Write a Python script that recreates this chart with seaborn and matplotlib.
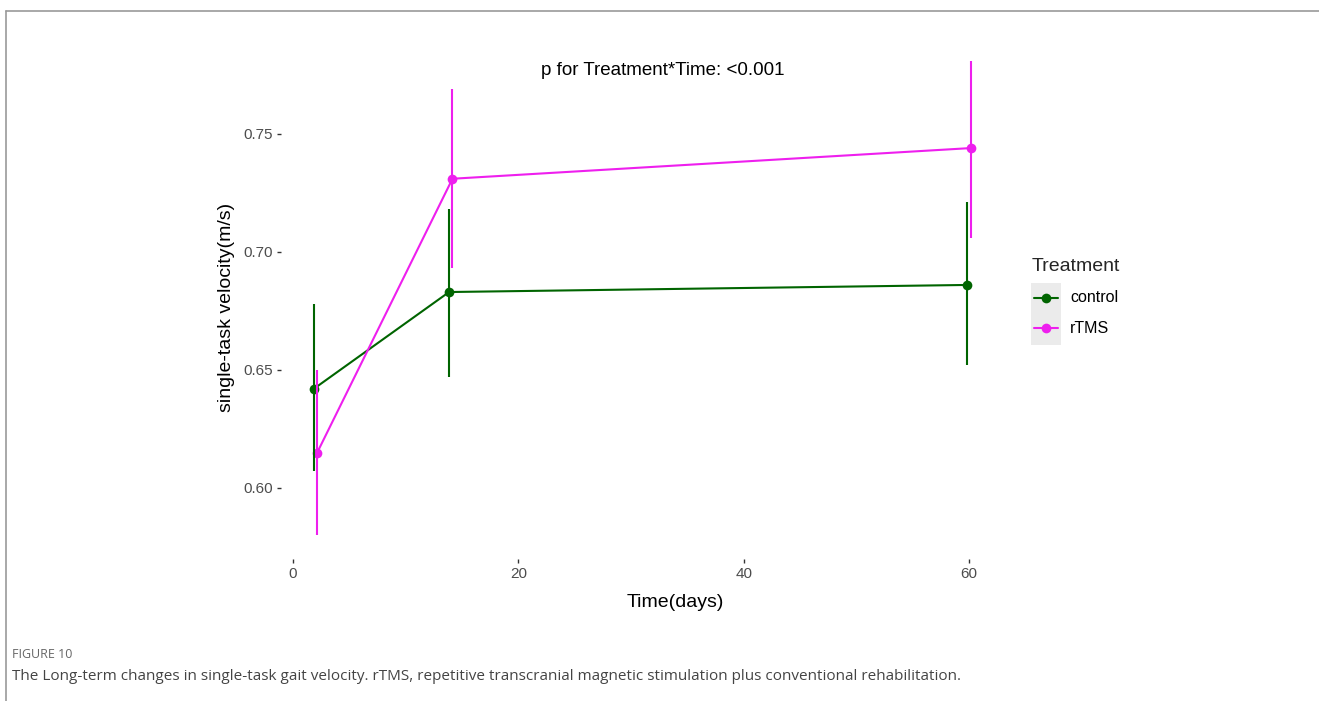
import pandas as pd
import matplotlib.pyplot as plt
import seaborn as sns
from matplotlib.patches import Rectangle
from matplotlib.lines import Line2D

# values
treatments = ["control", "rTMS"]
days = [2, 14, 60]
control_mean = [0.642, 0.683, 0.686]
control_low = [0.607, 0.647, 0.652]
control_high = [0.678, 0.718, 0.721]
rtms_mean = [0.615, 0.731, 0.744]
rtms_low = [0.580, 0.693, 0.706]
rtms_high = [0.650, 0.769, 0.781]
dodge = {"control": -0.15, "rTMS": 0.15}
colors = {"control": "#006400", "rTMS": "#EE1FEE"}

rows = []
for t, m, lo, hi in [("control", control_mean, control_low, control_high),
                     ("rTMS", rtms_mean, rtms_low, rtms_high)]:
    for d, a, b, c in zip(days, m, lo, hi):
        rows.append({"Treatment": t, "day": d + dodge[t], "mean": a, "low": b, "high": c})
df = pd.DataFrame(rows)

sns.set_theme(style="white")
plt.rcParams['font.family'] = ['Liberation Sans', 'DejaVu Sans']

fig = plt.figure(figsize=(13.19, 7.01), dpi=100)
ax = fig.add_axes([0.213, 0.203, 0.548, 0.744])

sns.lineplot(data=df, x="day", y="mean", hue="Treatment", palette=colors,
             marker="o", markersize=7, markeredgewidth=0, linewidth=1.5,
             ax=ax, legend=False, errorbar=None, sort=True)
for t in treatments:
    sub = df[df.Treatment == t]
    ax.vlines(sub["day"], sub["low"], sub["high"], color=colors[t], linewidth=1.5)

ax.set_xlim(-1.07, 63.07)
ax.set_ylim(0.570, 0.791)
ax.set_xticks([0, 20, 40, 60])
ax.set_yticks([0.60, 0.65, 0.70, 0.75])
ax.set_yticklabels(["0.60", "0.65", "0.70", "0.75"])
for s in ax.spines.values():
    s.set_visible(False)
ax.tick_params(axis="both", which="both", length=3, width=1, color="#333333",
               labelsize=11, labelcolor="#4d4d4d", pad=3, left=True, bottom=True)
ax.set_xlabel("Time(days)", fontsize=14, color="black")
ax.set_ylabel("single-task velocity(m/s)", fontsize=14, color="black")
ax.xaxis.set_label_coords((675 - 281) / 723, -0.068)
ax.yaxis.set_label_coords(-0.063, (559 - 308) / 522)

ax.text(32.8, 0.777, "p for Treatment*Time: <0.001", ha="center", va="center",
        fontsize=13.5, color="black")

# legend, ggplot style with grey key background
fig.text(1032 / 1319, 1 - 266 / 701, "Treatment", fontsize=14, va="center", ha="left")
fig.patches.append(Rectangle((1031 / 1319, 1 - 345 / 701), 30 / 1319, 62 / 701,
                             transform=fig.transFigure, facecolor="#ebebeb",
                             edgecolor="none", zorder=0))
for i, t in enumerate(treatments):
    yy = 1 - (298 + i * 30) / 701
    fig.lines.append(Line2D([1034 / 1319, 1058 / 1319], [yy, yy], transform=fig.transFigure,
                            color=colors[t], linewidth=1.5, marker=None))
    fig.lines.append(Line2D([1046 / 1319], [yy], transform=fig.transFigure,
                            color=colors[t], marker="o", markersize=7, markeredgewidth=0))
    fig.text(1070 / 1319, yy, t, fontsize=11.5, va="center", ha="left", color="black")

# page frame and caption
fig.lines.append(Line2D([6 / 1319, 1], [1 - 11 / 701, 1 - 11 / 701], transform=fig.transFigure,
                        color="#999999", linewidth=1.2))
fig.lines.append(Line2D([6 / 1319, 6 / 1319], [0, 1 - 11 / 701], transform=fig.transFigure,
                        color="#999999", linewidth=1.2))
fig.text(12 / 1319, 1 - 654 / 701, "FIGURE 10", fontsize=9, color="#666666",
         va="center", ha="left", family=["Open Sans", "DejaVu Sans"])
fig.text(12 / 1319, 1 - 677 / 701,
         "The Long-term changes in single-task gait velocity. rTMS, repetitive transcranial "
         "magnetic stimulation plus conventional rehabilitation.",
         fontsize=11, color="#444444", va="center", ha="left",
         family=["Open Sans", "DejaVu Sans"])

fig.savefig("out.png", dpi=100, facecolor="white")
